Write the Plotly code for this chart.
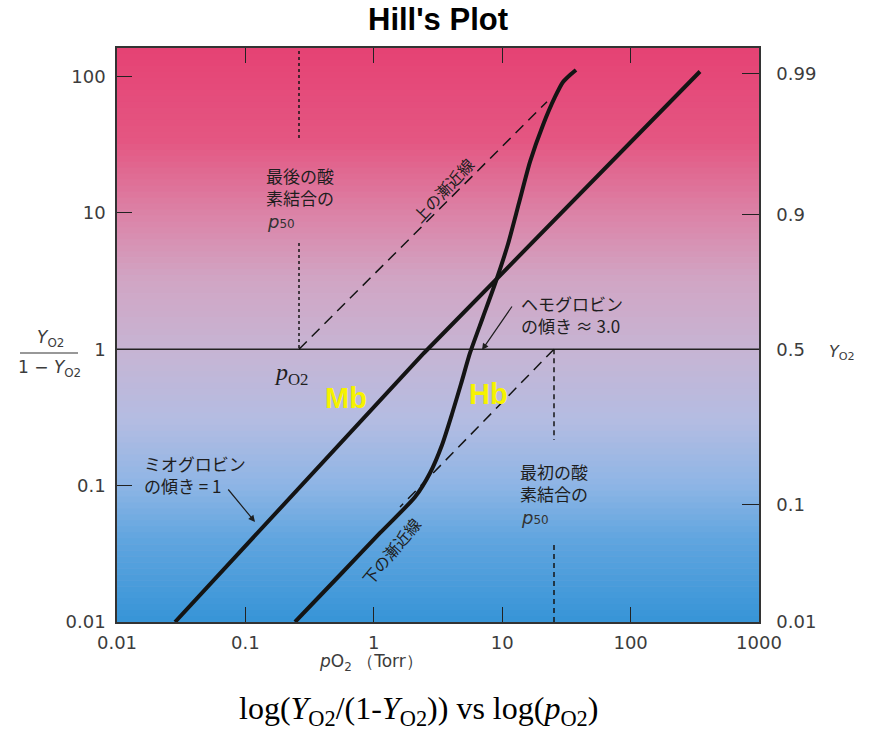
import plotly.graph_objects as go

# ---------------- data ----------------
hb_po2 = [0.2433, 0.5454, 1.118, 2.094, 2.740, 3.398, 4.064, 4.776, 5.614,
          7.088, 8.950, 11.10, 13.51, 16.46, 20.79, 25.78, 29.75, 33.73, 37.57]
hb_ratio = [0.01, 0.02211, 0.04493, 0.08248, 0.1237, 0.1985, 0.3348, 0.5555, 0.9378,
            1.722, 3.162, 5.906, 11.80, 23.58, 44.03, 70.63, 90.96, 102.4, 111.4]

mb_po2 = [0.02831, 2.460, 347.1]
mb_ratio = [0.01, 0.9378, 108.6]

upper_asym_po2 = [0.2615, 22.33]
upper_asym_ratio = [1.0, 65.24]
lower_asym_po2 = [25.32, 1.600]
lower_asym_ratio = [1.0, 0.06967]

last_p50 = 0.2615
last_p50_ratio_a = [170.0, 34.2]
last_p50_ratio_b = [6.006, 1.0]
first_p50 = 25.32
first_p50_ratio_a = [1.0, 0.2159]
first_p50_ratio_b = [0.03667, 0.01]

x_tickvals = [0.01, 0.1, 1, 10, 100, 1000]
x_ticktext = ["0.01", "0.1", "1", "10", "100", "1000"]
y_tickvals = [0.01, 0.1, 1, 10, 100]
y_ticktext = ["0.01", "0.1", "1", "10", "100"]
yo2_tickvals = [0.01, 0.0721, 1, 9.70, 104.1]
yo2_ticktext = ["0.01", "0.1", "0.5", "0.9", "0.99"]

# ---------------- layout geometry ----------------
W, H = 869, 736
L, R, T, B = 117, 759, 48, 622
PW, PH = R - L, B - T


def px(x):
    return (x - L) / PW


def py(y):
    return (B - y) / PH


# gradient stops (pixel y, rgb)
stops = [(48, (229, 66, 116)), (140, (228, 86, 130)), (216, (219, 132, 168)),
         (280, (209, 165, 196)), (353, (198, 181, 212)), (420, (180, 188, 226)),
         (485, (142, 181, 229)), (540, (96, 165, 223)), (622, (55, 148, 215))]


def col_at(y):
    for (y0, c0), (y1, c1) in zip(stops[:-1], stops[1:]):
        if y0 <= y <= y1:
            t = (y - y0) / (y1 - y0)
            return "rgb(%d,%d,%d)" % tuple(round(a + (b - a) * t) for a, b in zip(c0, c1))
    return "rgb(%d,%d,%d)" % stops[-1][1]


shapes = []
n = 96
for i in range(n):
    y0 = T + PH * i / n
    y1 = T + PH * (i + 1) / n
    shapes.append(dict(type="rect", xref="paper", yref="paper", x0=0, x1=1,
                       y0=py(y1 + 0.6), y1=py(y0), line=dict(width=0),
                       fillcolor=col_at((y0 + y1) / 2), layer="below"))
# fraction bar of the left axis title
shapes.append(dict(type="line", xref="paper", yref="paper", x0=px(20), x1=px(78),
                   y0=py(353), y1=py(353), line=dict(color="#333", width=1.2)))

fig = go.Figure()
blk = "#141414"

fig.add_trace(go.Scatter(x=[0.01, 1000], y=[1, 1], mode="lines",
                         line=dict(color="#222", width=1.5), hoverinfo="skip"))
fig.add_trace(go.Scatter(x=[last_p50, last_p50], y=last_p50_ratio_a, mode="lines",
                         line=dict(color=blk, width=1.5, dash="3px,3px")))
fig.add_trace(go.Scatter(x=[last_p50, last_p50], y=last_p50_ratio_b, mode="lines",
                         line=dict(color=blk, width=1.5, dash="3px,3px")))
fig.add_trace(go.Scatter(x=[first_p50, first_p50], y=first_p50_ratio_a, mode="lines",
                         line=dict(color=blk, width=1.5, dash="5px,4px")))
fig.add_trace(go.Scatter(x=[first_p50, first_p50], y=first_p50_ratio_b, mode="lines",
                         line=dict(color=blk, width=1.5, dash="5px,4px")))
fig.add_trace(go.Scatter(x=upper_asym_po2, y=upper_asym_ratio, mode="lines",
                         line=dict(color=blk, width=1.5, dash="11px,7px")))
fig.add_trace(go.Scatter(x=lower_asym_po2, y=lower_asym_ratio, mode="lines",
                         line=dict(color=blk, width=1.5, dash="11px,7px")))
fig.add_trace(go.Scatter(x=mb_po2, y=mb_ratio, mode="lines",
                         line=dict(color=blk, width=4)))
fig.add_trace(go.Scatter(x=hb_po2, y=hb_ratio, mode="lines",
                         line=dict(color=blk, width=4, shape="spline", smoothing=0.6)))
fig.add_trace(go.Scatter(x=[1], y=[1], yaxis="y2", mode="markers",
                         marker=dict(opacity=0), hoverinfo="skip"))

tickfont = dict(family="DejaVu Sans", size=18, color="#3c3c3c")
jp = dict(family="Noto Sans CJK JP", size=17, color="#1e1e1e")

ann = []


def A(text, x, y, font, xanchor="center", yanchor="middle", **kw):
    ann.append(dict(text=text, x=px(x), y=py(y), xref="paper", yref="paper",
                    showarrow=False, font=font, xanchor=xanchor, yanchor=yanchor, **kw))


A("<b>Hill's Plot</b>", 438, 20, dict(family="Liberation Sans", size=31, color="#000"))
A("log(<i>Y</i><sub>O2</sub>/(1-<i>Y</i><sub>O2</sub>)) vs log(<i>p</i><sub>O2</sub>)",
  418, 710, dict(family="Liberation Serif", size=32, color="#000"))
A("<i>p</i>O<sub>2</sub> （Torr）", 371, 662, dict(family="DejaVu Sans", size=17, color="#3c3c3c"))
A("<i>Y</i><sub>O2</sub>", 50, 339, dict(family="DejaVu Sans", size=17, color="#3c3c3c"))
A("1 − <i>Y</i><sub>O2</sub>", 49, 368, dict(family="DejaVu Sans", size=17, color="#3c3c3c"))
A("<i>Y</i><sub>O2</sub>", 842, 352, dict(family="DejaVu Sans", size=16, color="#3c3c3c"))

A("最後の酸<br>素結合の", 264, 186, jp, xanchor="left", align="left")
A("<i>p</i><span style='font-size:12px'>50</span>", 265, 222,
  dict(family="DejaVu Sans", size=18, color="#333"), xanchor="left")
A("最初の酸<br>素結合の", 518, 482, jp, xanchor="left", align="left")
A("<i>p</i><span style='font-size:12px'>50</span>", 519, 517,
  dict(family="DejaVu Sans", size=18, color="#333"), xanchor="left")
A("上の漸近線", 443, 190, dict(family="Noto Sans CJK JP", size=16, color="#1e1e1e"), textangle=-47)
A("下の漸近線", 391, 551, dict(family="Noto Sans CJK JP", size=16, color="#1e1e1e"), textangle=-50)
A("ヘモグロビン<br>の傾き ≈ 3.0", 519, 314, jp, xanchor="left", align="left")
A("ミオグロビン<br>の傾き = 1", 142, 474, jp, xanchor="left", align="left")
A("<i>p</i><sub>O2</sub>", 272, 374, dict(family="Liberation Serif", size=24, color="#1e1e1e"),
  xanchor="left")
A("<b>Mb</b>", 346, 398, dict(family="Liberation Sans", size=29, color="#f6f200"))
A("<b>Hb</b>", 488, 394, dict(family="Liberation Sans", size=29, color="#f6f200"))

# arrows
for (hx, hy, tx, ty) in [(255, 522, 227, 488), (482, 350, 513, 305)]:
    ann.append(dict(text="", x=px(hx), y=py(hy), xref="paper", yref="paper",
                    ax=tx - hx, ay=ty - hy, showarrow=True, arrowhead=2,
                    arrowsize=1.1, arrowwidth=1.2, arrowcolor="#1e1e1e"))

fig.update_layout(
    width=W, height=H,
    margin=dict(l=L, r=W - R, t=T, b=H - B),
    paper_bgcolor="white", plot_bgcolor="rgb(198,181,212)",
    showlegend=False,
    shapes=shapes, annotations=ann,
    xaxis=dict(type="log", range=[-2, 3], tickvals=x_tickvals, ticktext=x_ticktext,
               ticks="inside", ticklen=15, tickwidth=1.2, tickcolor="#222",
               showline=True, linecolor="#333", linewidth=1.5, mirror="ticks",
               showgrid=False, zeroline=False, tickfont=tickfont, ticklabelstandoff=4),
    yaxis=dict(type="log", range=[-2, 2.208], tickvals=y_tickvals, ticktext=y_ticktext,
               ticks="inside", ticklen=15, tickwidth=1.2, tickcolor="#222",
               showline=True, linecolor="#333", linewidth=1.5,
               showgrid=False, zeroline=False, tickfont=tickfont, ticklabelstandoff=6),
    yaxis2=dict(type="log", range=[-2, 2.208], overlaying="y", side="right",
                tickvals=yo2_tickvals, ticktext=yo2_ticktext,
                ticks="inside", ticklen=17, tickwidth=1.2, tickcolor="#222",
                showline=True, linecolor="#333", linewidth=1.5,
                showgrid=False, zeroline=False, tickfont=tickfont, ticklabelstandoff=12),
)

fig.write_html("out.html", config={"displayModeBar": False},
               post_script="document.body.style.margin='0px';document.body.style.overflow='hidden';")
